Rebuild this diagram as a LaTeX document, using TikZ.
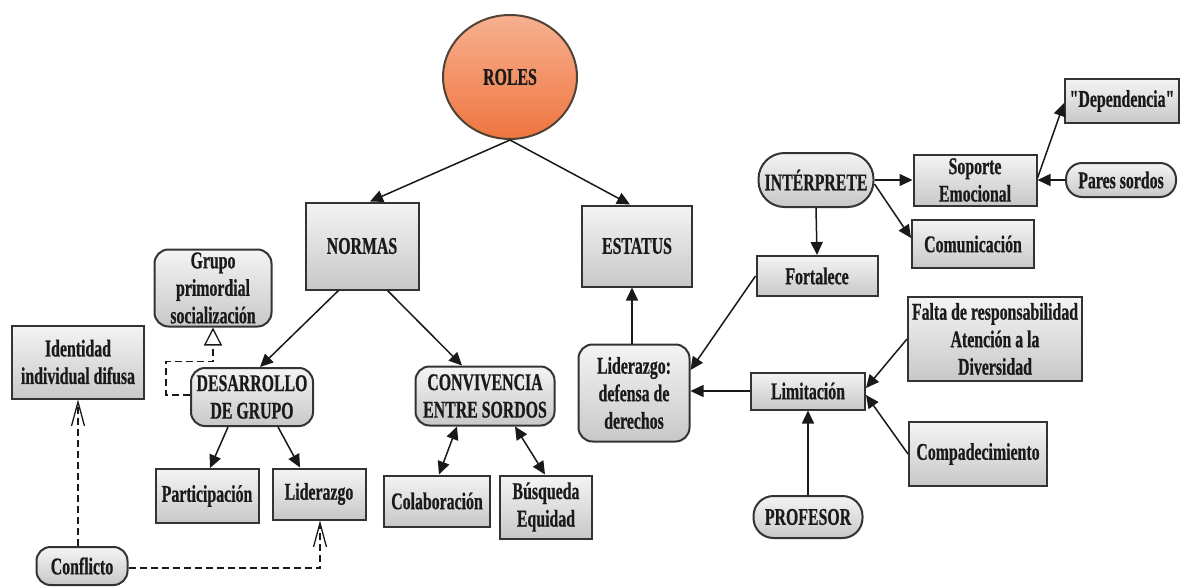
\documentclass[tikz,border=0pt]{standalone}
\usepackage{fontspec}
\setmainfont{Liberation Serif}[FakeStretch=0.66, BoldFeatures={FakeBold=0.6}]
\newfontfamily\qfont{Liberation Serif}[FakeStretch=0.66, BoldFeatures={FakeBold=0.6}]
\usetikzlibrary{arrows.meta,shapes.geometric,calc}
\definecolor{bordercol}{HTML}{333333}
\definecolor{boxtop}{HTML}{F4F4F4}
\definecolor{boxbot}{HTML}{C8C8C8}
\definecolor{orangetop}{HTML}{F7B08F}
\definecolor{orangebot}{HTML}{EF7540}
\definecolor{txtcol}{HTML}{1A1A1A}
\tikzset{
  base/.style={draw=bordercol, line width=2pt, top color=boxtop, bottom color=boxbot,
    inner sep=0pt, align=center, text=txtcol,
    font=\fontsize{24}{27.5}\selectfont\bfseries},
  sq/.style n args={2}{base, rectangle, minimum width=#1pt, minimum height=#2pt},
  rnd/.style n args={3}{base, rectangle, rounded corners=#3pt, minimum width=#1pt, minimum height=#2pt},
  arr/.style={line width=1.5pt, draw=black!90, -{Triangle[length=13pt,width=12pt]}},
  darr/.style={line width=1.5pt, draw=black!90, {Triangle[length=13pt,width=12pt]}-{Triangle[length=13pt,width=12pt]}},
  dsh/.style={line width=1.5pt, draw=black!90, dash pattern=on 7pt off 4pt},
  vtip/.style={dsh, -{Straight Barb[length=24pt,width=13pt,line width=1.3pt]}},
  ttip/.style={dsh, -{Triangle[open,length=18pt,width=18pt,fill=white,line width=1.3pt]}},
}
\begin{document}
\begin{tikzpicture}[x=1pt,y=1pt]
\path[use as bounding box, fill=white] (0,0) rectangle (1185,-586);

% nodes
\node[ellipse, draw=bordercol!80!brown, line width=2pt, top color=orangetop, bottom color=orangebot,
  minimum width=134pt, minimum height=124pt, inner sep=0pt, text=txtcol,
  font=\fontsize{24}{27.5}\selectfont\bfseries] (roles) at (510,-77) {ROLES};
\node[sq={113}{87}] (normas) at (362,-246) {NORMAS};
\node[sq={110}{81}] (estatus) at (637,-246) {ESTATUS};
\node[rnd={117}{77}{14}] (grupo) at (213,-288) {Grupo\\primordial\\socialización};
\node[sq={132}{73}] (identidad) at (78,-362) {Identidad\\individual difusa};
\node[rnd={122}{58}{14}] (desarrollo) at (252,-397) {DESARROLLO\\DE GRUPO};
\node[sq={103}{54}] (particip) at (207,-496) {Participación};
\node[sq={93}{51}] (lider) at (319,-494) {Liderazgo};
\node[rnd={91}{38}{14}] (conflicto) at (82,-566) {Conflicto};
\node[rnd={139}{59}{14}] (conviv) at (485,-396) {CONVIVENCIA\\ENTRE SORDOS};
\node[sq={106}{51}] (colab) at (437,-501) {Colaboración};
\node[sq={92}{63}] (busq) at (546,-507) {Búsqueda\\Equidad};
\node[rnd={111}{97}{14}] (liddef) at (634,-393) {Liderazgo:\\defensa de\\derechos};
\node[sq={114}{37}] (limit) at (808,-391) {Limitación};
\node[sq={174}{84}] (falta) at (995,-339) {Falta de responsabilidad\\Atención a la\\Diversidad};
\node[sq={138}{64}] (compad) at (978,-454) {Compadecimiento};
\node[rnd={109}{42}{20}] (profesor) at (808,-517) {PROFESOR};
\node[rnd={115}{54}{26}] (interp) at (816,-180) {INTÉRPRETE};
\node[sq={123}{51}] (soporte) at (975,-180) {Soporte\\Emocional};
\node[sq={122}{48}] (comun) at (973,-244) {Comunicación};
\node[sq={114}{44}] (depend) at (1122,-101) {\qfont\bfseries "Dependencia"};
\node[rnd={110}{34}{16}] (pares) at (1121,-180) {Pares sordos};
\node[sq={121}{40}] (fortalece) at (817,-276) {Fortalece};

% connectors
\draw[arr] (roles.south) -- ([xshift=8pt]normas.north);
\draw[arr] (roles.south) -- ([xshift=-7pt]estatus.north);
\draw[arr] ([xshift=34pt]normas.south west) -- ([xshift=8pt]desarrollo.north);
\draw[arr] ([xshift=-32pt]normas.south east) -- ([xshift=-23pt]conviv.north);
\draw[arr] ([xshift=-24pt]desarrollo.south) -- ([xshift=3pt]particip.north);
\draw[arr] ([xshift=26pt]desarrollo.south) -- ([xshift=-19pt]lider.north);
\draw[darr] ([xshift=-28pt]conviv.south) -- ([xshift=2pt]colab.north);
\draw[darr] ([xshift=30pt]conviv.south) -- ([xshift=-1pt]busq.north);
\draw[arr] ([xshift=-2pt]liddef.north) -- ([xshift=-5pt]estatus.south);
\draw[arr] (fortalece.west) -- ([yshift=23pt]liddef.east);
\draw[arr] (limit.west) -- (limit.west -| liddef.east);
\draw[arr] (falta.west) -- ([yshift=3pt]limit.east);
\draw[arr] (compad.west) -- ([yshift=-4pt]limit.east);
\draw[arr] (profesor.north) -- (limit.south);
\draw[arr] (interp.east) -- (interp.east -| soporte.west);
\draw[arr] ([yshift=-4pt]interp.east) -- ([yshift=6pt]comun.west);
\draw[arr] (interp.south) -- (fortalece.north);
\draw[arr] ([yshift=2pt]soporte.east) -- ([yshift=-2pt]depend.west);
\draw[arr] (pares.west) -- (pares.west -| soporte.east);

% dashed connectors
\draw[vtip] (identidad.south |- conflicto.north) -- (identidad.south);
\draw[vtip] ([yshift=-2pt]conflicto.east) -| ([xshift=1pt]lider.south);
\draw[ttip] ([yshift=2pt]desarrollo.west) -- ++(-24pt,0) |- ($(grupo.south)+(0,-34pt)$) -- (grupo.south);
\end{tikzpicture}
\end{document}
